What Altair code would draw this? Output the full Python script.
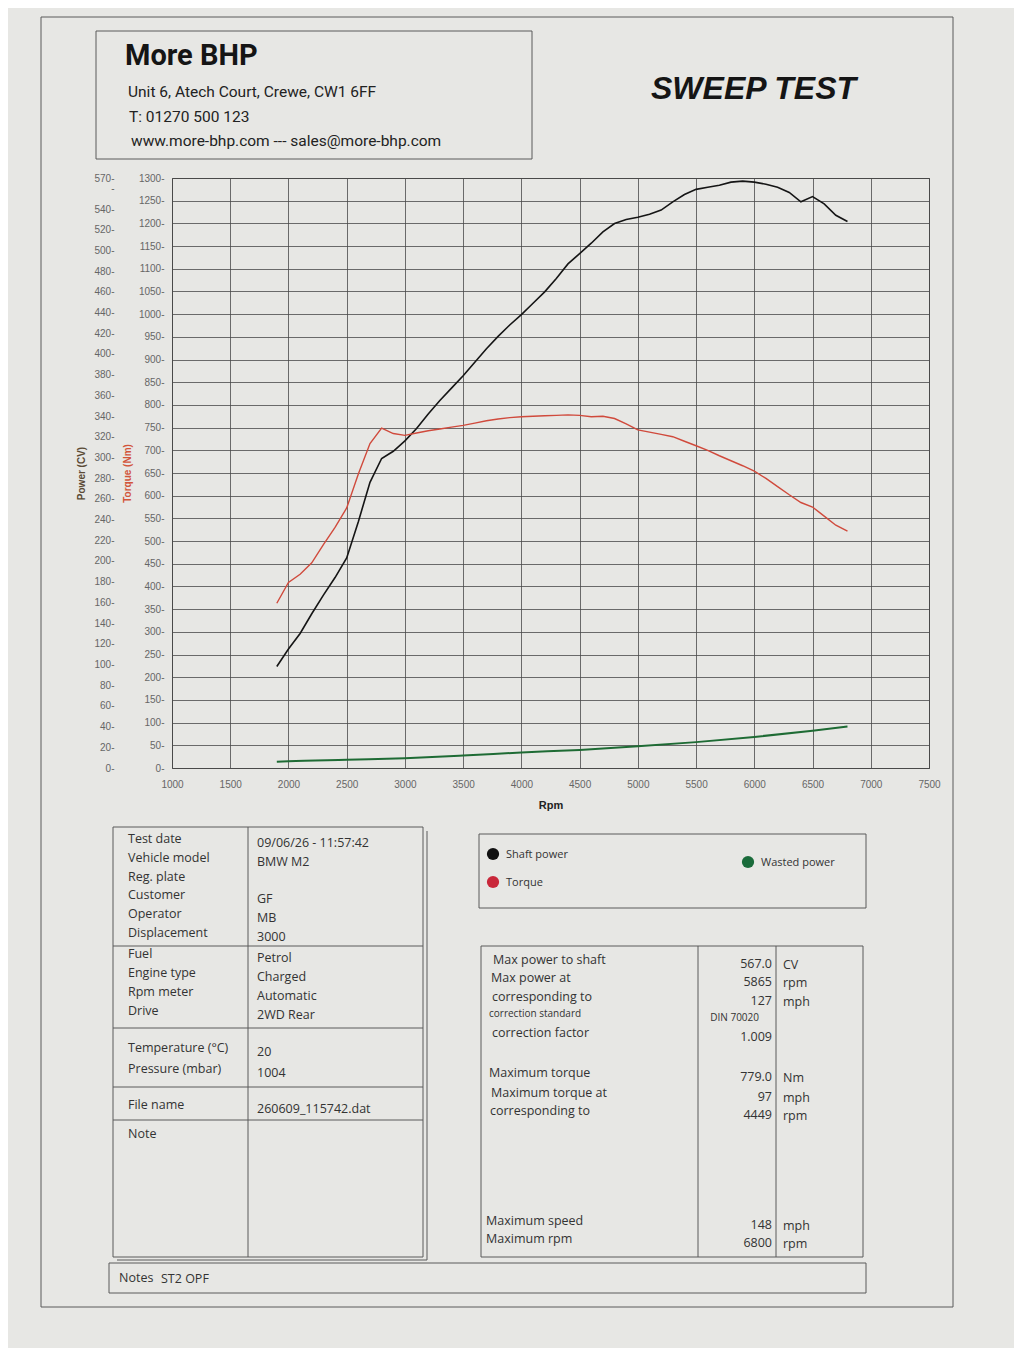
import altair as alt
import pandas as pd

# ---------------- chart data ----------------
rpm = [1900, 2000, 2100, 2200, 2300, 2400, 2500, 2600, 2700, 2800,
       2900, 3000, 3100, 3200, 3300, 3400, 3500, 3600, 3700, 3800,
       3900, 4000, 4100, 4200, 4300, 4400, 4500, 4600, 4700, 4800,
       4900, 5000, 5100, 5200, 5300, 5400, 5500, 5600, 5700, 5800,
       5900, 6000, 6100, 6200, 6300, 6400, 6500, 6600, 6700, 6800]
shaft_power_cv = [98, 115, 130, 149, 167, 184, 203, 238, 276, 299,
                  306, 316, 328, 342, 355, 367, 379, 392, 405, 417,
                  428, 438, 449, 460, 473, 487, 497, 507, 518, 526,
                  530, 532, 535, 539, 547, 554, 559, 561, 563, 566,
                  567, 566, 564, 561, 556, 547, 552, 545, 534, 528]
torque_nm = [363, 409, 427, 452, 492, 530, 573, 648, 715, 749,
             737, 733, 738, 743, 747, 751, 755, 760, 765, 769,
             772, 774, 775, 776, 777, 778, 777, 774, 775, 770,
             758, 745, 740, 735, 730, 720, 710, 700, 688, 677,
             666, 654, 638, 620, 602, 585, 575, 555, 535, 522]
wasted_rpm = [1900, 2000, 2500, 3000, 3500, 4000, 4500, 5000, 5500, 6000, 6500, 6800]
wasted_power_cv = [6, 6.5, 8, 9.5, 12, 15, 17.5, 21, 25, 30, 36, 40]

x_ticks = [1000, 1500, 2000, 2500, 3000, 3500, 4000, 4500, 5000, 5500, 6000, 6500, 7000, 7500]
power_ticks = [0, 20, 40, 60, 80, 100, 120, 140, 160, 180, 200, 220, 240, 260, 280,
               300, 320, 340, 360, 380, 400, 420, 440, 460, 480, 500, 520, 540, 560, 570]
torque_ticks = [0, 50, 100, 150, 200, 250, 300, 350, 400, 450, 500, 550, 600, 650,
                700, 750, 800, 850, 900, 950, 1000, 1050, 1100, 1150, 1200, 1250, 1300]

# ---------------- sheet texts ----------------
company = "More BHP"
address_lines = ["Unit 6, Atech Court, Crewe, CW1 6FF", "T: 01270 500 123",
                 "www.more-bhp.com --- sales@more-bhp.com"]
sheet_title = "SWEEP TEST"
info_labels = ["Test date", "Vehicle model", "Reg. plate", "Customer", "Operator",
               "Displacement", "Fuel", "Engine type", "Rpm meter", "Drive",
               "Temperature (°C)", "Pressure (mbar)", "File name", "Note"]
info_values = ["09/06/26 - 11:57:42", "BMW M2", "", "GF", "MB", "3000", "Petrol",
               "Charged", "Automatic", "2WD Rear", "20", "1004", "260609_115742.dat", ""]
legend_names = ["Shaft power", "Torque", "Wasted power"]
legend_colors = ["#111111", "#c9283a", "#1a6b3a"]
result_labels = ["Max power to shaft", "Max power at", "corresponding to",
                 "correction standard", "correction factor", "Maximum torque",
                 "Maximum torque at", "corresponding to", "Maximum speed", "Maximum rpm"]
result_values = ["567.0", "5865", "127", "DIN 70020", "1.009", "779.0", "97", "4449", "148", "6800"]
result_units = ["CV", "rpm", "mph", "", "", "Nm", "mph", "rpm", "mph", "rpm"]
notes_label = "Notes"
notes_text = "ST2 OPF"

# ---------------- layout (page pixels -> plot-relative pixels) ----------------
PX, PY = 171, 177
W, H = 757, 590
FONT_T = "Open Sans"
FONT_A = "Liberation Sans"
FONT_N = "Liberation Sans Narrow, Arial Narrow, Roboto, sans-serif"
INK = "#333333"
LINE = "#5a5a5a"


def px(v):
    return v - PX


def py(v):
    return v - PY


def pos(df):
    return dict(x=alt.X("x:Q", scale=None, axis=None), y=alt.Y("y:Q", scale=None, axis=None))


def text_layer(items, align="left", size=12.5, weight="normal", font=FONT_T,
               color=INK, style="normal"):
    df = pd.DataFrame([{"x": px(x), "y": py(y), "t": t} for (x, y, t) in items if t])
    return alt.Chart(df).mark_text(align=align, baseline="middle", fontSize=size,
                                   fontWeight=weight, font=font, color=color,
                                   fontStyle=style).encode(**pos(df), text="t:N")


rect_boxes = [(40, 952, 16, 1306), (95, 531, 30, 158), (112, 422, 826, 1256),
              (478, 865, 833, 907), (480, 862, 945, 1256), (108, 865, 1262, 1292)]
rect_df = pd.DataFrame([{"x": px(a), "x2": px(b), "y": py(c), "y2": py(d)}
                        for a, b, c, d in rect_boxes])
rects = alt.Chart(rect_df).mark_rect(fillOpacity=0, stroke=LINE, strokeWidth=1).encode(
    x=alt.X("x:Q", scale=None, axis=None), x2="x2:Q",
    y=alt.Y("y:Q", scale=None, axis=None), y2="y2:Q")

rule_segs = [(247, 247, 826, 1256), (112, 422, 945, 945), (112, 422, 1027, 1027),
             (112, 422, 1086, 1086), (112, 422, 1119, 1119),
             (697, 697, 945, 1256), (775, 775, 945, 1256),
             (426, 426, 830, 1259), (116, 426, 1259, 1259)]
rule_df = pd.DataFrame([{"x": px(a), "x2": px(b), "y": py(c), "y2": py(d)}
                        for a, b, c, d in rule_segs])
rules = alt.Chart(rule_df).mark_rule(color=LINE, strokeWidth=1).encode(
    x=alt.X("x:Q", scale=None, axis=None), x2="x2:Q",
    y=alt.Y("y:Q", scale=None, axis=None), y2="y2:Q")

# header
t_company = text_layer([(124, 55, company)], size=29, weight="bold", font=FONT_N, color="#151515")
t_address = text_layer([(127, 91, address_lines[0]), (128, 116, address_lines[1]),
                        (130, 140, address_lines[2])], size=15.5, font=FONT_N, color="#222222")
t_title = text_layer([(650, 88, sheet_title)], size=32, weight="bold", font=FONT_A,
                     color="#151515", style="italic")

# info table
info_y = [838, 857, 876, 894, 913, 932, 953, 972, 991, 1010, 1047, 1068, 1104, 1133]
t_info_l = text_layer([(127, y, s) for y, s in zip(info_y, info_labels)])
t_info_v = text_layer([(256, y + 4, s) for y, s in zip(info_y, info_values)])
t_notes = text_layer([(118, 1277, notes_label), (160, 1278, notes_text)])

# legend box
leg_pts = [(492, 853), (492, 881), (747, 861)]
dot_df = pd.DataFrame([{"x": px(x), "y": py(y), "c": c}
                       for (x, y), c in zip(leg_pts, legend_colors)])
dots = alt.Chart(dot_df).mark_circle(size=150, opacity=1).encode(
    **pos(dot_df), color=alt.Color("c:N", scale=None))
t_legend = text_layer([(x + 13, y + 1, s) for (x, y), s in zip(leg_pts, legend_names)], size=11)

# results table
res_y = [959, 977, 996, 1013, 1032, 1072, 1092, 1110, 1220, 1238]
res_x = [492, 490, 491, 488, 491, 488, 490, 489, 485, 485]
big = [i for i in range(len(result_labels)) if i != 3]
t_res_l = text_layer([(res_x[i], res_y[i], result_labels[i]) for i in big])
t_res_l_small = text_layer([(res_x[3], res_y[3], result_labels[3])], size=10)
t_res_v = text_layer([(771, res_y[i] + 4, result_values[i]) for i in big], align="right")
t_res_v_small = text_layer([(758, res_y[3] + 4, result_values[3])], align="right", size=10)
t_res_u = text_layer([(782, res_y[i] + 5, result_units[i]) for i in big])

# ---------------- main plot ----------------
df = pd.DataFrame({"rpm": rpm, "power": shaft_power_cv, "torque": torque_nm})
dfw = pd.DataFrame({"rpm": wasted_rpm, "wasted": wasted_power_cv})

x_enc = alt.X("rpm:Q", scale=alt.Scale(domain=[1000, 7500], nice=False, zero=False),
              axis=alt.Axis(values=x_ticks, format="d", grid=True, gridColor="#4a4a4a",
                            gridWidth=0.8, ticks=False, domain=False, labelPadding=11,
                            labelFontSize=10, labelFont=FONT_A, labelColor="#666666",
                            labelFlush=False, title="Rpm", titleFont=FONT_A,
                            titleFontSize=11, titleFontWeight="bold", titleColor="#222222",
                            titlePadding=10))

power_line = alt.Chart(df).mark_line(color="#151515", strokeWidth=1.6).encode(
    x=x_enc,
    y=alt.Y("power:Q", scale=alt.Scale(domain=[0, 570], nice=False, zero=True),
            axis=alt.Axis(orient="left", offset=58, values=power_ticks, format="d",
                          grid=False, domain=False, ticks=False, labelPadding=0,
                          labelOverlap=False, labelFontSize=10, labelFont=FONT_A,
                          labelColor="#666666",
                          labelExpr="datum.value == 560 ? '-' : datum.label + '-'",
                          title="Power (CV)", titleFont=FONT_A, titleFontSize=10,
                          titleFontWeight="bold", titleColor="#5a4a35", titlePadding=7)))

torque_line = alt.Chart(df).mark_line(color="#d04a3c", strokeWidth=1.4).encode(
    x=alt.X("rpm:Q"),
    y=alt.Y("torque:Q", scale=alt.Scale(domain=[0, 1300], nice=False, zero=True),
            axis=alt.Axis(orient="left", offset=0, values=torque_ticks, format="d",
                          grid=True, gridColor="#4a4a4a", gridWidth=0.8, domain=False,
                          ticks=False, labelPadding=8, labelOverlap=False,
                          labelFontSize=10, labelFont=FONT_A, labelColor="#666666",
                          labelExpr="datum.label + '-'",
                          title="Torque (Nm)", titleFont=FONT_A, titleFontSize=10,
                          titleFontWeight="bold", titleColor="#d2553a", titlePadding=6)))

wasted_line = alt.Chart(dfw).mark_line(color="#1e6b34", strokeWidth=2, interpolate="monotone").encode(
    x=alt.X("rpm:Q"),
    y=alt.Y("wasted:Q", scale=alt.Scale(domain=[0, 570], nice=False, zero=True), axis=None))

chart = alt.layer(
    power_line, torque_line, wasted_line,
    rects, rules, t_company, t_address, t_title, t_info_l, t_info_v, t_notes,
    dots, t_legend, t_res_l, t_res_l_small, t_res_v, t_res_v_small, t_res_u,
).resolve_scale(y="independent").properties(
    width=W, height=H,
    padding={"left": 32, "top": 8, "right": 60, "bottom": 40},
    background="#e7e7e4",
).configure_view(stroke="#444444", strokeWidth=1)

chart.save("out.html", embed_options={"renderer": "svg", "actions": False})
